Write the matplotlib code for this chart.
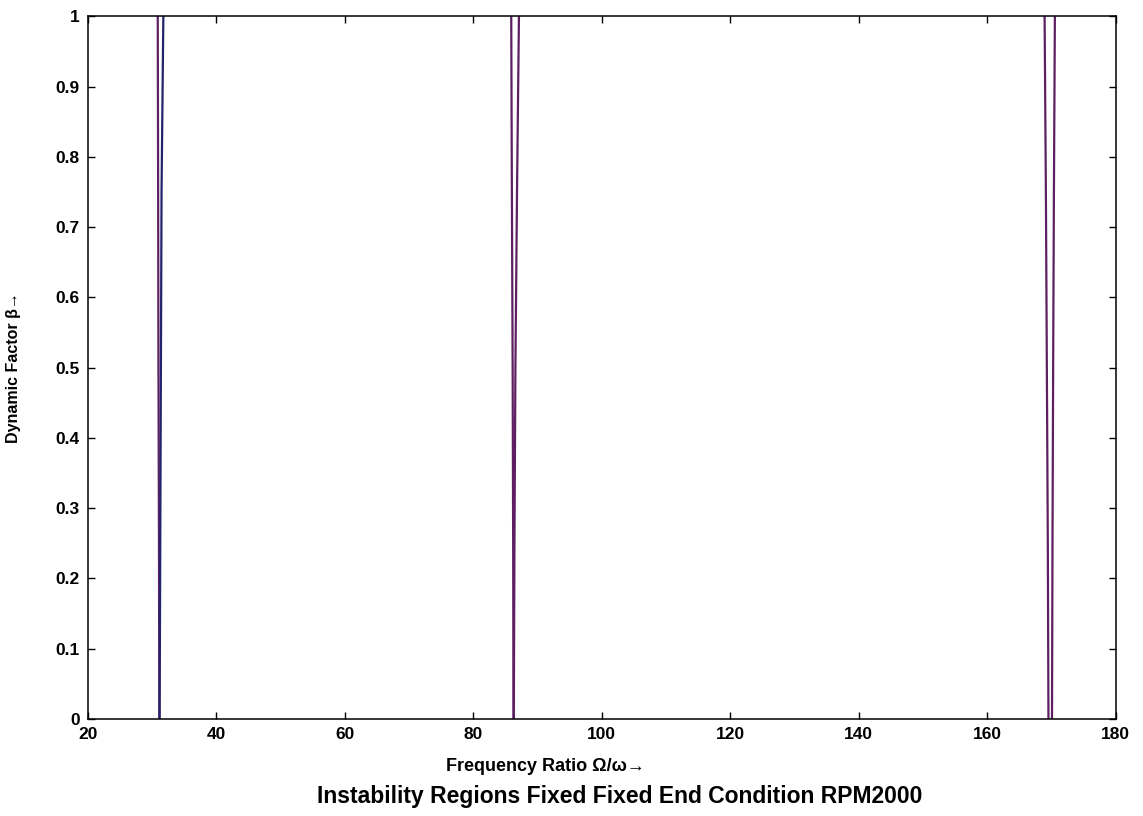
import matplotlib.pyplot as plt

# dynamic factor levels at which the region boundaries were read
beta = [0.0, 0.25, 0.5, 0.75, 1.0]

# boundaries of the three instability regions (frequency ratio)
region1_left = [31.10, 31.05, 30.97, 30.92, 30.86]
region1_right = [31.15, 31.25, 31.35, 31.45, 31.73]
region2_left = [86.25, 86.20, 86.12, 86.00, 85.90]
region2_right = [86.30, 86.40, 86.55, 86.80, 87.10]
region3_left = [169.55, 169.45, 169.30, 169.15, 168.95]
region3_right = [170.10, 170.18, 170.28, 170.40, 170.55]

xticks = [20, 40, 60, 80, 100, 120, 140, 160, 180]
yticks = [0, 0.1, 0.2, 0.3, 0.4, 0.5, 0.6, 0.7, 0.8, 0.9, 1]

plt.rcParams['font.family'] = ['Liberation Sans', 'DejaVu Sans']

fig = plt.figure(figsize=(11.43, 8.16), dpi=100)
ax = fig.add_axes([0.077, 0.119, 0.899, 0.861])

purple = '#5e1f62'
navy = '#24236e'

ax.plot(region1_left, beta, color=purple, lw=1.6)
ax.plot(region1_right, beta, color=navy, lw=1.6)
ax.plot(region2_left, beta, color=purple, lw=1.6)
ax.plot(region2_right, beta, color=purple, lw=1.6)
ax.plot(region3_left, beta, color=purple, lw=1.6)
ax.plot(region3_right, beta, color=purple, lw=1.6)

ax.set_xlim(20, 180)
ax.set_ylim(0, 1)
ax.set_xticks(xticks)
ax.set_yticks(yticks)
ax.set_xticklabels([str(t) for t in xticks], fontsize=12.5, fontweight='bold')
ax.set_yticklabels(['0', '0.1', '0.2', '0.3', '0.4', '0.5', '0.6', '0.7', '0.8', '0.9', '1'],
                   fontsize=12.5, fontweight='bold')
ax.tick_params(direction='in', top=True, right=True, length=5, width=1, pad=6)
for s in ax.spines.values():
    s.set_linewidth(1.1)

ax.set_xlabel('Frequency Ratio Ω/ω→', fontsize=13, fontweight='bold')
ax.xaxis.set_label_coords(0.445, -0.055)
ax.set_ylabel('Dynamic Factor β→', fontsize=11.5, fontweight='bold')
ax.yaxis.set_label_coords(-0.065, 0.5)

fig.text(0.542, 0.024, 'Instability Regions Fixed Fixed End Condition RPM2000',
         ha='center', va='center', fontsize=16.5, fontweight='bold')

plt.savefig('out.png', dpi=100)
